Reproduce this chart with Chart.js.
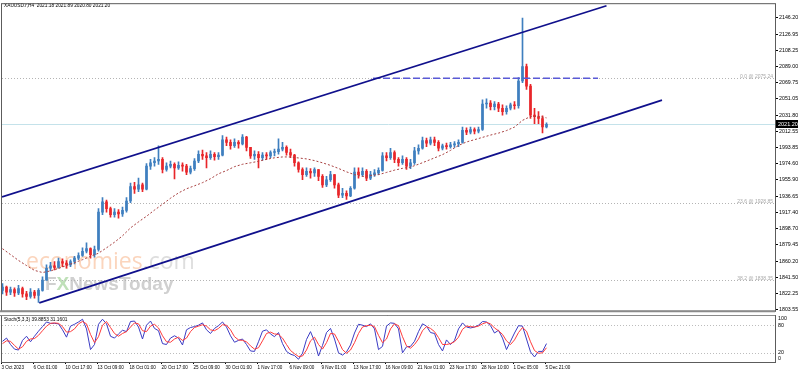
<!DOCTYPE html>
<html>
<head>
<meta charset="utf-8">
<script src="https://cdn.jsdelivr.net/npm/chart.js@4.4.0/dist/chart.umd.min.js"></script>
<style>
  html, body { margin: 0; padding: 0; background: #fff; }
  #wrap { position: relative; width: 798px; height: 372px; overflow: hidden; }
  #priceChart { position: absolute; left: 0; top: 0; }
  #stochChart { position: absolute; left: 0; top: 315px; }
</style>
</head>
<body>
<div id="wrap">
  <canvas id="priceChart" width="798" height="315"></canvas>
  <canvas id="stochChart" width="798" height="57"></canvas>
</div>
<script>
// XAUUSD H4, one candle here = two H4 bars (bar index 2k+0.5)
const firstOpen = 1826;
const closes = [
  1830, 1824, 1827, 1823, 1828, 1822, 1819, 1824, 1820, 1826,
  1838, 1852, 1855, 1853, 1860, 1858, 1856, 1860, 1864, 1867,
  1872, 1875, 1868, 1874, 1918, 1930, 1922, 1915, 1918, 1916,
  1920, 1931, 1948, 1945, 1950, 1945, 1972, 1976, 1978, 1980,
  1968, 1972, 1974, 1970, 1973, 1972, 1965, 1969, 1978, 1986,
  1984, 1982, 1986, 1983, 1985, 2003, 2000, 1996, 2000, 1998,
  2006, 1994, 1984, 1986, 1982, 1985, 1984, 1988, 1989, 1992,
  1994, 1988, 1985, 1976, 1968, 1962, 1966, 1964, 1968, 1960,
  1950, 1956, 1962, 1950, 1938, 1940, 1937, 1946, 1965, 1962,
  1966, 1958, 1962, 1964, 1967, 1984, 1982, 1988, 1980, 1976,
  1980, 1972, 1976, 1990, 1993, 2002, 1999, 2003, 2000, 1993,
  1996, 1995, 1997, 1998, 2000, 2014, 2012, 2015, 2013, 2015,
  2045, 2046, 2042, 2045, 2040, 2036, 2040, 2044, 2043, 2072,
  2089, 2066, 2032, 2030, 2028, 2018, 2021.2
];
const highs = [
  1834, 1831, 1830, 1829, 1832, 1830, 1825, 1828, 1826, 1828,
  1842, 1856, 1859, 1860, 1864, 1863, 1861, 1862, 1866, 1870,
  1876, 1882, 1876, 1878, 1922, 1935, 1932, 1924, 1922, 1921,
  1924, 1935, 1952, 1953, 1958, 1952, 1975, 1980, 1982, 1996,
  1982, 1976, 1978, 1976, 1977, 1976, 1974, 1972, 1981, 1990,
  1991, 1988, 1990, 1988, 1988, 2008, 2006, 2003, 2004, 2002,
  2009, 2007, 1994, 1990, 1989, 1988, 1988, 1990, 1992, 2004,
  2000, 1996, 1992, 1986, 1977, 1970, 1970, 1969, 1970, 1968,
  1962, 1960, 1966, 1962, 1952, 1946, 1943, 1948, 1970, 1970,
  1970, 1968, 1966, 1968, 1970, 1988, 1988, 1993, 1990, 1982,
  1984, 1982, 1980, 1994, 1997, 2006, 2005, 2006, 2006, 2002,
  1998, 1999, 2000, 2001, 2003, 2018, 2017, 2018, 2017, 2018,
  2050, 2051, 2049, 2048, 2047, 2044, 2043, 2046, 2048, 2076,
  2146, 2092, 2068, 2040, 2036, 2031, 2023
];
const lows = [
  1822, 1820, 1821, 1819, 1821, 1818, 1815, 1817, 1817, 1812,
  1825, 1838, 1849, 1850, 1852, 1854, 1852, 1854, 1857, 1862,
  1866, 1870, 1864, 1865, 1872, 1915, 1918, 1912, 1912, 1911,
  1913, 1918, 1929, 1940, 1942, 1942, 1944, 1968, 1972, 1974,
  1964, 1966, 1970, 1957, 1968, 1966, 1962, 1963, 1967, 1976,
  1980, 1970, 1980, 1979, 1980, 1984, 1996, 1992, 1994, 1993,
  1997, 1990, 1981, 1980, 1970, 1979, 1980, 1982, 1984, 1986,
  1990, 1985, 1982, 1972, 1965, 1956, 1960, 1958, 1960, 1955,
  1947, 1948, 1954, 1946, 1935, 1935, 1933, 1936, 1945, 1958,
  1960, 1955, 1956, 1960, 1962, 1966, 1978, 1980, 1976, 1972,
  1974, 1968, 1969, 1974, 1986, 1992, 1995, 1997, 1996, 1990,
  1991, 1992, 1993, 1994, 1995, 1999, 2009, 2010, 2010, 2011,
  2014, 2040, 2038, 2038, 2036, 2032, 2033, 2038, 2039, 2040,
  2070, 2062, 2028, 2022, 2022, 2011, 2017
];
// moving average, one value every 4 bars (bar index 4j+0.5)
const maValues = [
  1875.0, 1868.1, 1861.2, 1855.2, 1849.5, 1847.0, 1848.9, 1851.8, 1855.2, 1858.6,
  1862.1, 1866.0, 1869.7, 1876.0, 1882.6, 1890.1, 1899.4, 1906.5, 1913.1, 1920.4,
  1927.2, 1934.3, 1940.5, 1945.4, 1948.9, 1952.6, 1957.2, 1963.0, 1966.8, 1971.4,
  1974.2, 1975.9, 1977.7, 1980.0, 1981.8, 1982.8, 1982.8, 1981.6, 1980.5, 1978.5,
  1975.9, 1972.9, 1969.3, 1965.3, 1962.0, 1959.9, 1960.9, 1962.0, 1964.6, 1967.3,
  1969.4, 1970.9, 1974.2, 1977.9, 1981.7, 1985.5, 1990.5, 1996.3, 2000.4, 2003.1,
  2005.8, 2008.5, 2010.8, 2013.8, 2017.9, 2025.8, 2030.3, 2030.6, 2028.7
];
const stochK = [
  45, 52, 38, 28, 26, 47, 56, 44, 56, 67,
  77, 87, 84, 84, 83, 70, 54, 78, 82, 87,
  93, 72, 27, 38, 82, 93, 83, 56, 52, 61,
  69, 66, 88, 89, 76, 50, 80, 89, 73, 68,
  40, 38, 52, 57, 52, 37, 70, 75, 77, 80,
  85, 70, 62, 73, 79, 87, 76, 57, 43, 47,
  50, 38, 24, 23, 44, 67, 70, 61, 55, 64,
  40, 23, 17, 14, 6, 19, 49, 66, 45, 13,
  36, 64, 73, 50, 20, 15, 22, 37, 63, 82,
  80, 77, 83, 72, 27, 34, 78, 85, 84, 72,
  20, 33, 34, 45, 66, 83, 78, 64, 62, 38,
  24, 48, 38, 47, 72, 85, 76, 74, 76, 80,
  88, 87, 79, 63, 69, 52, 27, 45, 63, 79,
  78, 50, 22, 11, 23, 23, 40
];
const stochD = [
  40, 46, 45, 36, 28, 33, 45, 50, 51, 58,
  68, 78, 84, 85, 84, 77, 65, 66, 72, 83,
  88, 83, 60, 42, 55, 80, 88, 75, 62, 56,
  62, 66, 76, 85, 83, 68, 66, 78, 82, 74,
  57, 44, 43, 50, 54, 47, 52, 66, 75, 78,
  81, 78, 70, 68, 73, 81, 80, 70, 55, 48,
  47, 44, 35, 28, 31, 46, 62, 65, 61, 60,
  52, 38, 25, 18, 12, 13, 26, 46, 54, 38,
  28, 42, 62, 61, 45, 27, 19, 26, 42, 62,
  76, 79, 80, 77, 58, 42, 50, 72, 83, 79,
  55, 35, 30, 38, 50, 68, 77, 73, 66, 53,
  38, 38, 40, 44, 54, 71, 78, 77, 76, 78,
  83, 86, 83, 74, 68, 60, 46, 38, 48, 64,
  75, 67, 44, 25, 19, 20, 31
];
const timeLabels = [
  "3 Oct 2023", "6 Oct 01:00", "10 Oct 17:00", "13 Oct 09:00", "18 Oct 01:00",
  "20 Oct 17:00", "25 Oct 09:00", "30 Oct 01:00", "1 Nov 17:00", "6 Nov 09:00",
  "9 Nov 01:00", "13 Nov 17:00", "16 Nov 09:00", "21 Nov 01:00", "23 Nov 17:00",
  "28 Nov 10:00", "1 Dec 05:00", "5 Dec 21:00"
];
const priceTicks = [
  2146.20, 2126.95, 2108.25, 2089.00, 2069.75, 2051.05, 2031.80, 2012.55, 1993.85,
  1974.60, 1955.90, 1936.65, 1917.40, 1898.70, 1879.45, 1860.20, 1841.50, 1822.25, 1803.55
];
const fibNames = ["0.0", "23.6", "38.2"];
const fibPrices = [2075.24, 1928.85, 1838.35];
// trendlines: [bar index, price]
const upperChannel = [[0.25, 1935.9], [302.5, 2160.5]];
const lowerChannel = [[18.9, 1811.3], [330.25, 2049.5]];
const resistanceLine = [[185.75, 2075.24], [298.25, 2075.24]];
const lastPrice = 2021.20;
const stochLevels = [100, 80, 20, 0];

const BULL = "#3f7fbf";
const BEAR = "#e8262a";
const FONT = "Liberation Sans";

const barX = closes.map((c, k) => 2 * k + 0.5);
const opens = closes.map((c, k) => (k === 0 ? firstOpen : closes[k - 1]));
const isUp = closes.map((c, k) => c >= opens[k]);
const candleColor = (ctx) => (isUp[ctx.dataIndex] ? BULL : BEAR);
const toPoints = (arr) => arr.map((p) => ({ x: p[0], y: p[1] }));

const mainDecor = {
  id: "mainDecor",
  beforeDatasetsDraw(chart) {
    const { ctx, chartArea: a, scales } = chart;
    ctx.save();
    ctx.beginPath();
    ctx.rect(a.left, a.top, a.right - a.left, a.bottom - a.top);
    ctx.clip();
    // watermark
    ctx.textBaseline = "alphabetic";
    ctx.font = "23px 'Open Sans'";
    ctx.fillStyle = "#fbd5bd";
    ctx.fillText("economies", 26, 269);
    const w = ctx.measureText("economies").width;
    ctx.fillStyle = "#dedede";
    ctx.fillText(".com", 26 + w, 269);
    ctx.font = "bold 19px " + FONT;
    ctx.fillStyle = "#d0d0d0";
    ctx.fillText("F", 45, 290);
    ctx.fillStyle = "#bfe0b8";
    ctx.fillText("X", 45 + ctx.measureText("F").width, 290);
    ctx.fillStyle = "#d0d0d0";
    ctx.fillText("NewsToday", 45 + ctx.measureText("FX").width, 290);
    // fibonacci levels
    ctx.strokeStyle = "#b4b4b4";
    ctx.lineWidth = 1;
    ctx.setLineDash([1, 2]);
    fibPrices.forEach((p) => {
      const y = Math.round(scales.y.getPixelForValue(p)) + 0.5;
      ctx.beginPath();
      ctx.moveTo(a.left, y);
      ctx.lineTo(a.right, y);
      ctx.stroke();
    });
    ctx.setLineDash([]);
    // last price line
    const yl = Math.round(scales.y.getPixelForValue(lastPrice)) + 0.5;
    ctx.strokeStyle = "#c4e2ea";
    ctx.beginPath();
    ctx.moveTo(a.left, yl);
    ctx.lineTo(a.right, yl);
    ctx.stroke();
    ctx.restore();
  },
  afterDraw(chart) {
    const { ctx, chartArea: a, scales } = chart;
    ctx.save();
    ctx.font = "5px " + FONT;
    ctx.fillStyle = "#a8a8a8";
    ctx.textAlign = "right";
    ctx.textBaseline = "bottom";
    fibPrices.forEach((p, i) => {
      const y = scales.y.getPixelForValue(p);
      ctx.fillText(fibNames[i] + " @ " + p.toFixed(2), a.right - 2, y + 1);
    });
    ctx.textAlign = "left";
    ctx.textBaseline = "middle";
    ctx.fillStyle = "#000";
    ctx.font = "4.8px " + FONT;
    ctx.fillText("XAUUSD.r,H4  2021.18 2021.89 2020.80 2021.20", 4, 6);
    // price box
    const yl = scales.y.getPixelForValue(lastPrice);
    ctx.fillStyle = "#000";
    ctx.fillRect(a.right + 1, Math.round(yl) - 4, 22, 8);
    ctx.fillStyle = "#fff";
    ctx.font = "5.5px " + FONT;
    ctx.fillText(lastPrice.toFixed(2), a.right + 3, Math.round(yl));
    // frame
    ctx.strokeStyle = "#5c5c5c";
    ctx.lineWidth = 1;
    ctx.strokeRect(a.left - 0.5, a.top - 0.5, a.right - a.left + 1, a.bottom - a.top + 1);
    ctx.strokeStyle = "#8a8a8a";
    ctx.lineWidth = 2;
    ctx.beginPath();
    ctx.moveTo(0, a.bottom + 0.5);
    ctx.lineTo(a.right, a.bottom + 0.5);
    ctx.stroke();
    ctx.restore();
  }
};

new Chart(document.getElementById("priceChart"), {
  type: "bar",
  data: {
    datasets: [
      {
        type: "line", label: "Upper channel", data: toPoints(upperChannel),
        borderColor: "#10108c", borderWidth: 1.7, pointRadius: 0, order: 0
      },
      {
        type: "line", label: "Lower channel", data: toPoints(lowerChannel),
        borderColor: "#10108c", borderWidth: 1.7, pointRadius: 0, order: 0
      },
      {
        type: "line", label: "Resistance", data: toPoints(resistanceLine),
        borderColor: "#5a5ad6", borderWidth: 1.5, borderDash: [7, 3], pointRadius: 0, order: 1
      },
      {
        type: "line", label: "MA",
        data: maValues.map((v, j) => ({ x: 4 * j + 0.5, y: v })),
        borderColor: "#a84040", borderWidth: 1, borderDash: [2, 2], pointRadius: 0, order: 2
      },
      {
        label: "Body",
        data: closes.map((c, k) => ({ x: barX[k], y: [opens[k], c] })),
        backgroundColor: candleColor, barThickness: 2, minBarLength: 1,
        grouped: false, borderWidth: 0, order: 3
      },
      {
        label: "Wick",
        data: closes.map((c, k) => ({ x: barX[k], y: [lows[k], highs[k]] })),
        backgroundColor: candleColor, barThickness: 1,
        grouped: false, borderWidth: 0, order: 4
      }
    ]
  },
  options: {
    responsive: false,
    animation: false,
    events: [],
    layout: { padding: { left: 2, top: 1, right: 0, bottom: 1 } },
    plugins: { legend: { display: false }, tooltip: { enabled: false } },
    scales: {
      x: { type: "linear", display: false, min: 0.25, max: 386.75, offset: false },
      y: {
        type: "linear", position: "right", min: 1802.0, max: 2162.3,
        afterBuildTicks: (s) => { s.ticks = priceTicks.map((v) => ({ value: v })); },
        afterFit: (s) => { s.width = 23; },
        ticks: {
          autoSkip: false, padding: 1, color: "#000",
          font: { family: FONT, size: 5.3 },
          callback: (v) => Number(v).toFixed(2)
        },
        grid: { drawOnChartArea: false, drawTicks: true, tickLength: 3, color: "#000" },
        border: { display: false }
      }
    }
  },
  plugins: [mainDecor]
});

const stochDecor = {
  id: "stochDecor",
  beforeDatasetsDraw(chart) {
    const { ctx, chartArea: a, scales } = chart;
    ctx.save();
    ctx.strokeStyle = "#bdbdbd";
    ctx.lineWidth = 1;
    ctx.setLineDash([1, 2]);
    [80, 20].forEach((v) => {
      const y = Math.round(scales.y.getPixelForValue(v)) + 0.5;
      ctx.beginPath();
      ctx.moveTo(a.left, y);
      ctx.lineTo(a.right, y);
      ctx.stroke();
    });
    ctx.restore();
  },
  afterDraw(chart) {
    const { ctx, chartArea: a, scales } = chart;
    ctx.save();
    ctx.fillStyle = "#000";
    ctx.font = "4.8px " + FONT;
    ctx.textBaseline = "middle";
    ctx.textAlign = "left";
    ctx.fillText("Stoch(5,3,3) 39.8853 31.1601", 4, 5);
    ctx.font = "5.3px " + FONT;
    stochLevels.forEach((v) => {
      let y = scales.y.getPixelForValue(v);
      y = Math.min(Math.max(y, a.top + 2.5), a.bottom - 3.5);
      ctx.fillText(String(v), a.right + 3, y);
    });
    ctx.strokeStyle = "#5c5c5c";
    ctx.lineWidth = 1;
    ctx.strokeRect(a.left - 0.5, a.top - 0.5, a.right - a.left + 1, a.bottom - a.top + 1);
    ctx.strokeStyle = "#8a8a8a";
    ctx.beginPath();
    ctx.moveTo(0, 0.5);
    ctx.lineTo(a.right, 0.5);
    ctx.stroke();
    ctx.restore();
  }
};

new Chart(document.getElementById("stochChart"), {
  type: "line",
  data: {
    datasets: [
      {
        label: "%D", data: stochD.map((v, k) => ({ x: barX[k], y: v })),
        borderColor: "#ff3a3a", borderWidth: 1, pointRadius: 0, order: 0
      },
      {
        label: "%K", data: stochK.map((v, k) => ({ x: barX[k], y: v })),
        borderColor: "#3b3bc4", borderWidth: 1, pointRadius: 0, order: 1
      }
    ]
  },
  options: {
    responsive: false,
    animation: false,
    events: [],
    layout: { padding: { left: 2, top: 1, right: 0, bottom: 0 } },
    plugins: { legend: { display: false }, tooltip: { enabled: false } },
    scales: {
      x: {
        type: "linear", position: "bottom", min: 0.25, max: 386.75, offset: false,
        afterBuildTicks: (s) => { s.ticks = timeLabels.map((t, i) => ({ value: i * 16 })); },
        afterFit: (s) => { s.height = 10; },
        ticks: {
          align: "start", autoSkip: false, maxRotation: 0, padding: 1, color: "#000",
          font: { family: FONT, size: 4.6 },
          callback: (v) => timeLabels[Math.round(v / 16)]
        },
        grid: { drawOnChartArea: false, drawTicks: true, tickLength: 2, color: "#000" },
        border: { display: false }
      },
      y: {
        type: "linear", position: "right", min: 0, max: 100,
        afterFit: (s) => { s.width = 23; },
        ticks: { display: false },
        grid: { display: false },
        border: { display: false }
      }
    }
  },
  plugins: [stochDecor]
});
</script>
</body>
</html>
